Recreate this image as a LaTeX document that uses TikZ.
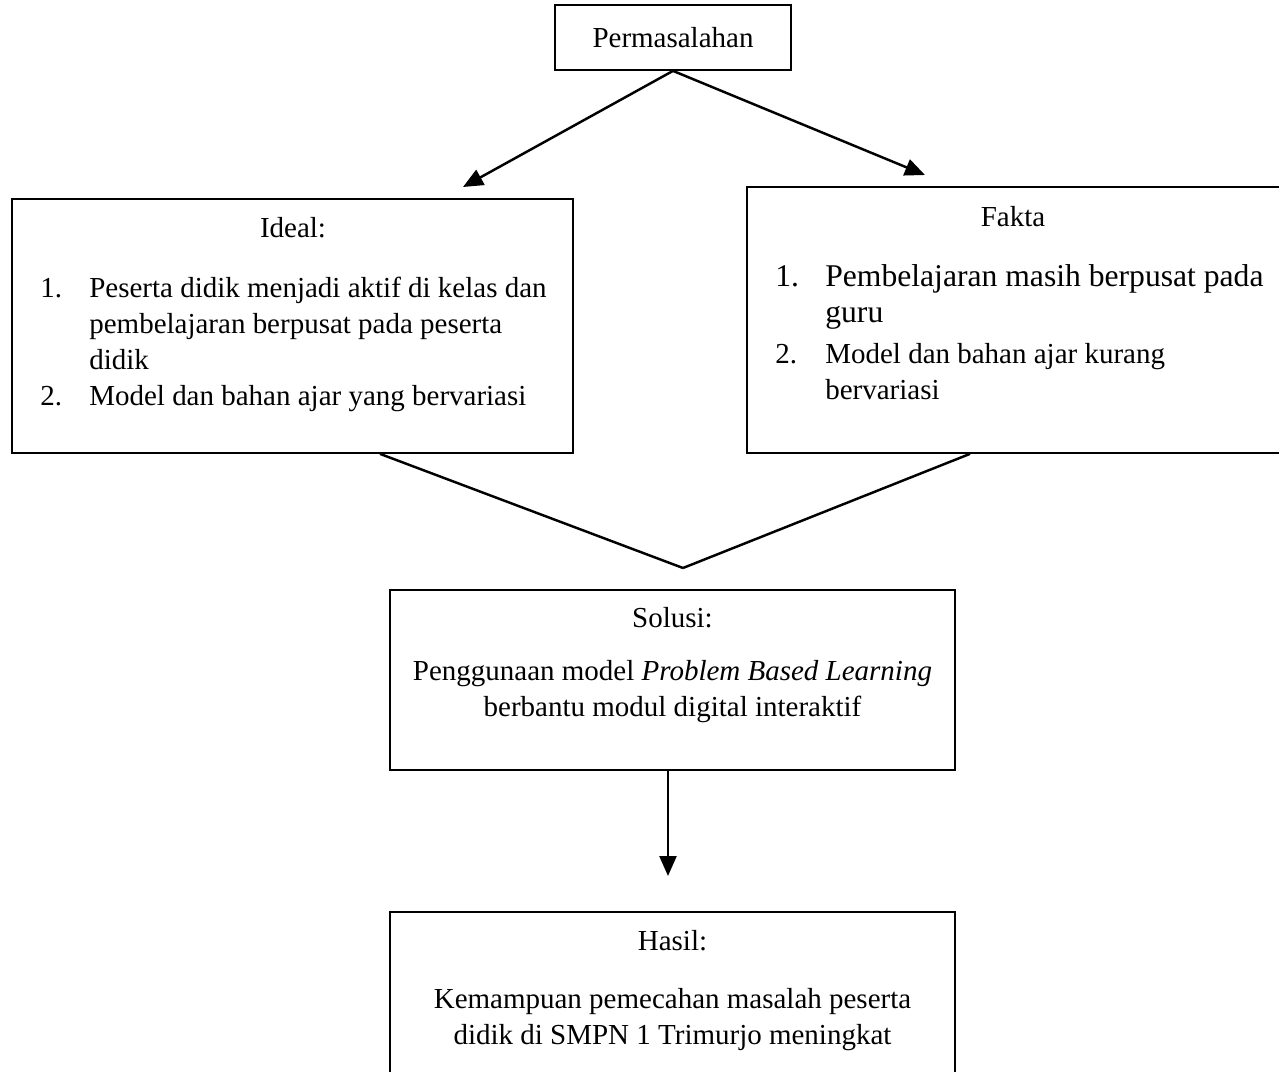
\documentclass[tikz,border=0pt]{standalone}
\usepackage{fontspec}
\setmainfont{Liberation Serif}
\usetikzlibrary{positioning,arrows.meta}
\newcommand{\bigtxt}{\fontsize{18}{20.5}\selectfont}

\begin{document}
\begin{tikzpicture}[
    x=0.02cm, y=-0.02cm,
    box/.style={rectangle, draw, line width=1pt, inner sep=0pt, font=\fontsize{16.5}{20.5}\selectfont},
    txt/.style={inner sep=0pt, font=\fontsize{16.5}{20.5}\selectfont},
    arrow/.style={-{Triangle[length=0.4cm, width=0.34cm]}, line width=1.4pt},
    link/.style={line width=1.4pt},
]
\useasboundingbox (0,0) rectangle (1279,1072);
\clip (0,0) rectangle (1279,1072);

% Boxes
\node[box, minimum width=4.72cm, minimum height=1.3cm] (masalah) at (673,37.5) {Permasalahan};
\node[box, minimum width=11.22cm, minimum height=5.08cm] (ideal) at (292.5,326) {};
\node[box, minimum width=11.06cm, minimum height=5.32cm] (fakta) at (1023.5,320) {};
\node[box, minimum width=11.3cm, minimum height=3.6cm] (solusi) at (672.5,680) {};
\node[box, minimum width=11.3cm, minimum height=3.56cm] (hasil) at (672.5,1001) {};

% Texts
\node[txt, anchor=base] (idealtitle) at (293,237) {Ideal:};
\node[txt, anchor=north west] (ideallist) at (40,272) {\begin{tabular}{@{}p{0.98cm}@{}l@{}}
1. & Peserta didik menjadi aktif di kelas dan\\
   & pembelajaran berpusat pada peserta\\
   & didik\\
2. & Model dan bahan ajar yang bervariasi
\end{tabular}};

\node[txt, anchor=base] (faktatitle) at (1013,226) {Fakta};
\node[txt, anchor=north west] (faktalist) at (775,261) {\begin{tabular}{@{}p{1cm}@{}l@{}}
\bigtxt 1. & \bigtxt Pembelajaran masih berpusat pada\\
   & \bigtxt guru\\[3pt]
2. & Model dan bahan ajar kurang\\
   & bervariasi
\end{tabular}};

\node[txt, anchor=base] (solusititle) at (672.5,627) {Solusi:};
\node[txt, anchor=north] (solusitext) at (672.5,655) {\begin{tabular}{@{}c@{}}
Penggunaan model \textit{Problem Based Learning}\\
berbantu modul digital interaktif
\end{tabular}};

\node[txt, anchor=base] (hasiltitle) at (672.5,950) {Hasil:};
\node[txt, anchor=north] (hasiltext) at (672.5,983) {\begin{tabular}{@{}c@{}}
Kemampuan pemecahan masalah peserta\\
didik di SMPN 1 Trimurjo meningkat
\end{tabular}};

% Connectors
\coordinate (idealtip) at (463,187);
\coordinate (faktatip) at (925,175);
\coordinate (meet) at (683,568);
\coordinate (hasiltip) at (668,876);

\draw[arrow] (masalah.south) -- (idealtip);
\draw[arrow] (masalah.south) -- (faktatip);
\draw[link] ([xshift=1.75cm]ideal.south) -- (meet);
\draw[link] ([xshift=-1.07cm]fakta.south) -- (meet);
\draw[arrow] (solusi.south -| hasiltip) -- (hasiltip);

\end{tikzpicture}
\end{document}
